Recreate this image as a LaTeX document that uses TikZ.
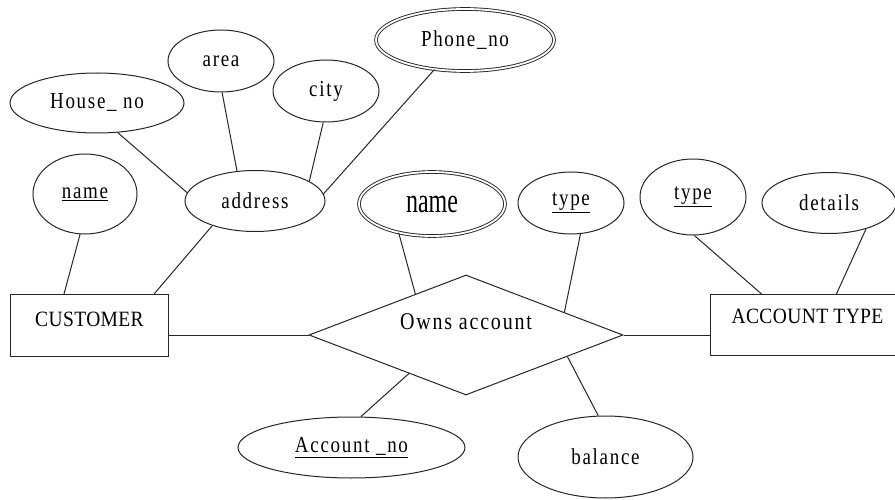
\documentclass[tikz,border=0pt]{standalone}
\usepackage{fontspec}
\usepackage{graphicx}
\setmainfont{Liberation Serif}
\newfontfamily\lowfont[LetterSpace=9]{Liberation Serif}
\newfontfamily\capfont[LetterSpace=2]{Liberation Serif}
\usetikzlibrary{shapes.geometric}
% lowercase labels: tracked and slightly tall
\newcommand\lowtxt[2][19]{\scalebox{1}[1.2]{\lowfont\fontsize{#1}{#1}\selectfont #2}}
% entity names in capitals
\newcommand\captxt[1]{\scalebox{1}[1.12]{\capfont\fontsize{19.5}{20}\selectfont #1}}

\begin{document}
\begin{tikzpicture}[x=1pt, y=-1pt, line width=1pt, draw=black!85,
  attr/.style={ellipse, draw, inner sep=0pt},
  multi/.style={attr, double, double distance=1.8pt, line width=0.9pt},
  entity/.style={rectangle, draw, inner sep=0pt, anchor=north west},
  relship/.style={diamond, draw, inner sep=0pt, aspect=2.6, minimum width=314pt,
    minimum height=120pt, text height=14pt, text depth=26pt}]
\clip (0,0) rectangle (895,500);
\fill[white] (0,0) rectangle (895,500);

% attributes of the address
\node[attr, minimum width=106pt, minimum height=62pt] (area) at (221,61) {\lowtxt{area}};
\node[attr, minimum width=174pt, minimum height=60pt] (house) at (97,103) {\lowtxt{House\_ no}};
\node[attr, minimum width=106pt, minimum height=62pt] (city) at (326,91) {\lowtxt{city}};
\node[multi, minimum width=178pt, minimum height=62pt] (phone) at (465,40) {\lowtxt{Phone\_no}};

% customer side
\node[attr, minimum width=104pt, minimum height=80pt] (cname) at (85,194) {\lowtxt{\underline{name}}};
\node[attr, minimum width=140pt, minimum height=61pt] (addr) at (255,201) {\lowtxt{address}};
\node[entity, minimum width=158pt, text height=32pt, text depth=30pt] (cust) at (10,294) {\captxt{CUSTOMER}};

% relationship and its attributes
\node[multi, minimum width=146pt, minimum height=64pt] (wname) at (432,204)
  {\scalebox{1}[1.45]{\fontsize{24}{24}\selectfont name}};
\node[attr, minimum width=106pt, minimum height=62pt] (rtype) at (571,203) {\lowtxt{\underline{type}}};
\node[relship] (own) at (466,335) {\lowtxt[20]{Owns account}};
\node[attr, minimum width=227pt, minimum height=61pt] (accno) at (351.5,447.5) {\lowtxt{\underline{Account \_no}}};
\node[attr, minimum width=175pt, minimum height=82pt] (bal) at (605.5,457) {\lowtxt{balance}};

% account type side
\node[attr, minimum width=106pt, minimum height=76pt] (atype) at (693,197) {\lowtxt{\underline{type}}};
\node[attr, minimum width=134pt, minimum height=61pt] (details) at (829,203) {\lowtxt{details}};
\node[entity, minimum width=194pt, text height=29pt, text depth=32pt] (acct) at (710,294) {\captxt{ACCOUNT TYPE}};

% connectors
\draw (cname.-97) -- (cust.129);
\draw (addr.210) -- (cust.26);
\draw (house.-55) -- (addr.173);
\draw (area.-88) -- (addr.121);
\draw (city.-95) -- (addr.20);
\draw (phone.224) -- (addr.6);
\draw (own.west -| cust.east) -- (own.west);
\draw (own.east) -- (own.east -| acct.west);
\draw (wname.221) -- (own.141);
\draw (rtype.-73) -- (own.13);
\draw (accno.73) -- (own.214.6);
\draw (bal.100) -- (own.-12.5);
\draw (atype.-88) -- (acct.146);
\draw (details.-35) -- (acct.47.4);
\end{tikzpicture}
\end{document}
